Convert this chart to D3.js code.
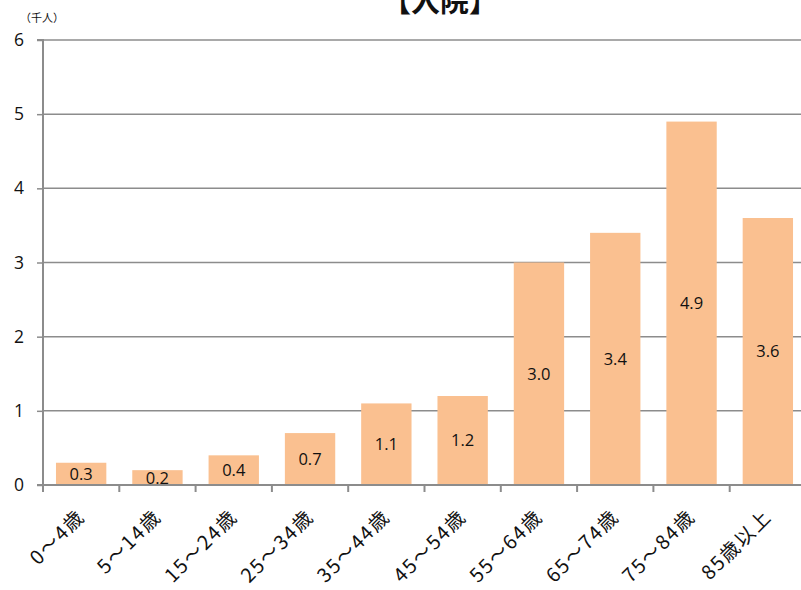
<!DOCTYPE html>
<html lang="ja">
<head>
<meta charset="utf-8">
<script src="https://cdn.jsdelivr.net/npm/d3@7"></script>
<style>
  html, body { margin: 0; padding: 0; background: #fff; }
  svg { display: block; }
</style>
</head>
<body>
<svg id="chart" width="801" height="590"></svg>
<script>
// 年齢階級別 入院患者数（千人）
const categories = ["0～4歳", "5～14歳", "15～24歳", "25～34歳", "35～44歳",
                    "45～54歳", "55～64歳", "65～74歳", "75～84歳", "85歳以上"];
const values = [0.3, 0.2, 0.4, 0.7, 1.1, 1.2, 3.0, 3.4, 4.9, 3.6];
const yTicks = [0, 1, 2, 3, 4, 5, 6];
const title = "【入院】";
const unitLabel = "（千人）";

const svg = d3.select("#chart");
const plotLeft = 43, plotRight = 806, plotTop = 40, plotBottom = 485;

const x = d3.scaleBand().domain(categories).range([plotLeft, plotRight]).paddingInner(0.34).paddingOuter(0.17);
const xEdges = d3.scaleBand().domain(categories).range([plotLeft, plotRight]);
const y = d3.scaleLinear().domain([0, 6]).range([plotBottom, plotTop]);

const gridColor = "#8c8c8c";
const jp = "'Noto Sans CJK JP', 'Noto Sans', sans-serif";
const num = "'Open Sans', 'Noto Sans', sans-serif";

// horizontal gridlines
svg.append("g").selectAll("line").data(yTicks.filter(d => d > 0)).join("line")
  .attr("x1", plotLeft).attr("x2", 801)
  .attr("y1", d => y(d)).attr("y2", d => y(d))
  .attr("stroke", gridColor).attr("stroke-width", 1.5);

// bars
svg.append("g").selectAll("rect").data(values).join("rect")
  .attr("x", (d, i) => x(categories[i]))
  .attr("y", d => y(d))
  .attr("width", x.bandwidth())
  .attr("height", d => y(0) - y(d))
  .attr("fill", "#fac090");

// value labels, centred in each bar
svg.append("g").selectAll("text").data(values).join("text")
  .attr("x", (d, i) => x(categories[i]) + x.bandwidth() / 2)
  .attr("y", d => (y(d) + y(0)) / 2)
  .attr("dy", "0.36em")
  .attr("text-anchor", "middle")
  .attr("font-family", num).attr("font-size", 16.5).attr("fill", "#111")
  .text(d => d.toFixed(1));

// y axis
const yAxis = svg.append("g").attr("transform", `translate(${plotLeft},0)`)
  .call(d3.axisLeft(y).tickValues(yTicks).tickSize(6).tickPadding(13).tickFormat(d3.format("d")));
yAxis.select(".domain").attr("stroke", gridColor).attr("stroke-width", 2).attr("d", `M-6,${plotTop}H0V${plotBottom}`);
yAxis.selectAll(".tick line").attr("stroke", gridColor).attr("stroke-width", 1.5);
yAxis.selectAll(".tick text").attr("font-family", num).attr("font-size", 17.5).attr("fill", "#111");

// x axis baseline and tick marks at category boundaries
const edges = categories.map(c => xEdges(c)).concat([plotRight]);
svg.append("line").attr("x1", plotLeft - 6).attr("x2", 801).attr("y1", plotBottom).attr("y2", plotBottom)
  .attr("stroke", gridColor).attr("stroke-width", 2);
svg.append("g").selectAll("line").data(edges).join("line")
  .attr("x1", d => d).attr("x2", d => d).attr("y1", plotBottom).attr("y2", plotBottom + 7)
  .attr("stroke", gridColor).attr("stroke-width", 2);

// rotated category labels
svg.append("g").selectAll("text").data(categories).join("text")
  .attr("transform", c => `translate(${xEdges(c) + xEdges.bandwidth() / 2 + 5},${plotBottom + 33}) rotate(-45)`)
  .attr("text-anchor", "end")
  .attr("font-family", jp).attr("font-size", 19.5).attr("letter-spacing", 1.8).attr("fill", "#111")
  .text(c => c);

// title (runs off the top edge) and unit
svg.append("text").attr("x", 440).attr("y", 12).attr("text-anchor", "middle")
  .attr("font-family", jp).attr("font-weight", "bold").attr("font-size", 29).attr("fill", "#111")
  .text(title);
svg.append("text").attr("x", 20).attr("y", 22)
  .attr("font-family", jp).attr("font-size", 11).attr("fill", "#111")
  .text(unitLabel);
</script>
</body>
</html>
